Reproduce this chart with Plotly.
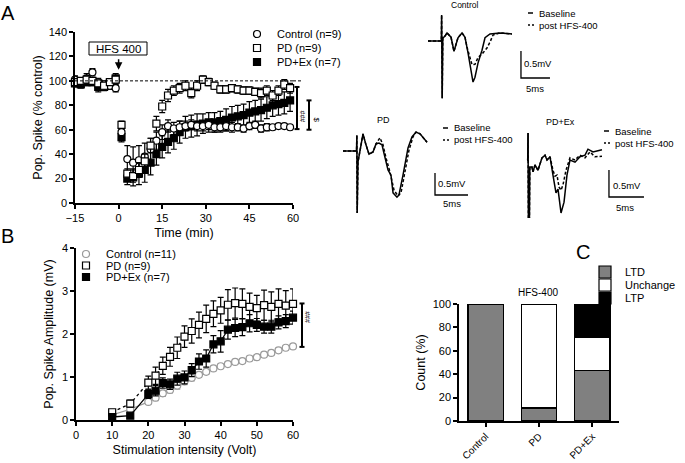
import plotly.graph_objects as go

W, H = 685, 463
FONT = "Arial, Liberation Sans, sans-serif"

# ---------------- Panel A data: Pop. Spike (% control) vs time ----------------
time_base = [-15, -13, -11, -9, -7, -5, -3, -1]
time_post = [1, 3, 5, 7, 9, 11, 13, 15, 17, 19, 21, 23, 25, 27, 29,
             31, 33, 35, 37, 39, 41, 43, 45, 47, 49, 51, 53, 55, 57, 59]

ctrl_base = [101, 99, 102, 107, 99, 97, 96, 94]
pd_base = [99, 100, 101, 100, 98, 96, 99, 101]
pdex_base = [98, 97, 99, 99, 95, 95, 98, 102]

ctrl_post = [58, 36, 33, 35, 38, 44, 51, 58, 63, 61, 62, 63, 64, 63, 63,
             64, 62, 62, 63, 62, 62, 61, 63, 64, 61, 62, 62, 63, 63, 62]
pd_post = [64, 24, 22, 27, 34, 47, 65, 79, 88, 92, 94, 96, 90, 96, 101,
           99, 96, 93, 93, 94, 93, 92, 92, 91, 90, 92, 88, 92, 97, 94]
pdex_post = [54, 20, 21, 24, 27, 33, 40, 46, 50, 53, 58, 62, 63, 64, 65,
             66, 66, 67, 68, 70, 71, 72, 74, 75, 76, 78, 80, 81, 82, 84]

ctrl_err_base = [3, 3, 4, 3, 3, 3, 3, 3]
pd_err_base = [2, 2, 3, 2, 2, 2, 2, 2]
pdex_err_base = [3, 3, 3, 3, 4, 3, 3, 4]
ctrl_err_post = [5, 11, 13, 12, 11, 9, 7, 6, 5, 5, 5, 4, 4, 4, 4,
                 4, 4, 4, 4, 4, 3, 3, 3, 3, 3, 3, 2, 2, 2, 2]
pd_err_post = [3, 4, 5, 6, 6, 6, 6, 5, 5, 4, 4, 4, 4, 4, 3,
               3, 3, 3, 3, 3, 3, 3, 3, 3, 4, 4, 4, 4, 4, 4]
pdex_err_post = [4, 5, 7, 9, 10, 10, 9, 9, 9, 9, 9, 9, 9, 9, 8,
                 8, 8, 8, 9, 9, 9, 9, 9, 9, 9, 9, 9, 9, 9, 9]

baseline_pct = 100
hfs_arrow_y = 109
sig_A_hash = [60.5, 95]
sig_A_dollar = [60, 84]

# ---------------- Panel B data: input/output ----------------
volt = [10, 15, 20, 22, 24, 26, 28, 30, 32, 34, 36, 38, 40, 42, 44, 46, 48, 50, 52, 54, 56, 58, 60]
ctrl_B = [0.12, 0.25, 0.42, 0.52, 0.62, 0.7, 0.8, 0.9, 0.98, 1.05, 1.12, 1.2, 1.25,
          1.3, 1.35, 1.37, 1.43, 1.46, 1.52, 1.56, 1.62, 1.68, 1.71]
pd_B = [0.18, 0.38, 0.87, 1.03, 1.26, 1.47, 1.68, 1.94, 2.07, 2.21, 2.35, 2.47, 2.55,
        2.68, 2.72, 2.7, 2.63, 2.6, 2.67, 2.63, 2.7, 2.66, 2.7]
pdex_B = [0.07, 0.1, 0.6, 0.68, 0.86, 0.83, 0.96, 0.99, 1.16, 1.36, 1.43, 1.76, 1.83,
          2.1, 2.14, 2.16, 2.25, 2.21, 2.17, 2.17, 2.27, 2.3, 2.38]
ctrl_B_err = [0.03, 0.04, 0.06, 0.07, 0.07, 0.07, 0.08, 0.08, 0.07, 0.06, 0.06, 0.05, 0.05,
              0.05, 0.05, 0.05, 0.05, 0.05, 0.05, 0.05, 0.05, 0.05, 0.05]
pd_B_err = [0.05, 0.08, 0.15, 0.2, 0.2, 0.22, 0.25, 0.25, 0.28, 0.3, 0.32, 0.3, 0.3,
            0.35, 0.35, 0.35, 0.32, 0.3, 0.35, 0.35, 0.35, 0.35, 0.35]
pdex_B_err = [0.03, 0.05, 0.1, 0.12, 0.12, 0.12, 0.15, 0.15, 0.15, 0.18, 0.2, 0.2, 0.25,
              0.22, 0.2, 0.2, 0.2, 0.15, 0.15, 0.15, 0.15, 0.15, 0.15]
sig_B_hash = [1.70, 2.71]

# ---------------- Panel C data: outcome counts (%) ----------------
groups = ["Control", "PD", "PD+Ex"]
ltd_pct = [100, 11.1, 42.9]
unchange_pct = [0, 88.9, 28.6]
ltp_pct = [0, 0, 28.5]

# ---------------- Representative traces (ms, mV) ----------------
ctrl_t_base = [0, 2.24, 2.3, 2.35, 2.45, 2.55, 2.93, 3.28, 3.97, 4.48, 5.17, 5.86, 6.38, 6.9,
               7.41, 7.76, 8.1, 8.62, 9.31, 9.83, 10.69, 12.41, 14.48]
ctrl_v_base = [0, 0, 0, 0.48, -1.06, 0.05, 0.09, 0.15, 0.07, -0.19, 0.06, 0.15, 0.07, -0.22,
               -0.57, -0.76, -0.67, -0.41, -0.17, 0.06, 0.13, 0.15, 0.13]
ctrl_t_post = [0, 2.24, 2.3, 2.35, 2.45, 2.55, 2.93, 3.28, 3.97, 4.48, 5.17, 5.86, 6.38, 6.72,
               7.24, 7.59, 8.1, 8.62, 9.48, 10.17, 10.69, 11.21, 12.41, 14.48]
ctrl_v_post = [0, 0, 0, 0.48, -1.06, 0.05, 0.09, 0.15, 0.07, -0.19, 0.06, 0.15, 0.07, -0.11,
               -0.31, -0.44, -0.43, -0.31, -0.22, -0.13, -0.02, 0.11, 0.15, 0.13]

pd_t_base = [0, 1.82, 2.05, 2.1, 2.15, 2.27, 3.03, 3.48, 3.94, 4.55, 5.0, 5.45, 5.91, 6.21,
             6.82, 7.27, 7.58, 8.18, 8.48, 9.09, 9.85, 10.45, 11.06, 11.67, 12.73]
pd_v_base = [0, 0, 0, 0.36, -1.41, -0.25, 0.39, 0.14, -0.07, -0.02, 0.16, 0.18, 0.14, -0.05,
             -0.43, -0.55, -0.95, -1.05, -1.0, -0.55, 0.07, 0.32, 0.43, 0.39, 0.2]
pd_t_post = [0, 1.82, 2.05, 2.1, 2.15, 2.27, 3.03, 3.48, 3.94, 4.55, 5.0, 5.6, 6.06, 6.52,
             7.12, 7.73, 8.33, 8.79, 9.39, 10.0, 10.6, 11.06, 11.67, 12.73]
pd_v_post = [0, 0, 0, 0.36, -1.41, -0.25, 0.39, 0.14, -0.07, -0.02, 0.16, 0.3, 0.14, -0.16,
             -0.48, -0.89, -1.02, -0.95, -0.48, 0.02, 0.32, 0.43, 0.39, 0.2]

pdex_t_base = [0, 0.1, 0.15, 0.2, 0.35, 0.4, 0.71, 0.86, 1.14, 1.57, 2.14, 2.57, 2.86, 3.29,
               3.71, 4.14, 4.43, 4.86, 5.29, 5.71, 6.14, 6.86, 7.57, 8.29, 8.71, 9.43, 10.71]
pdex_v_base = [0, 0, 0.5, -1.06, -1.06, -0.13, -0.13, -0.22, -0.09, -0.19, 0.04, 0.09, 0, 0.06,
               -0.28, -0.61, -0.54, -0.98, -0.78, -0.28, 0, -0.04, 0.06, 0.09, 0.2, 0.15, 0.19]
pdex_t_post = [0, 0.1, 0.15, 0.2, 0.35, 0.4, 0.71, 0.86, 1.14, 1.57, 2.14, 2.57, 2.86, 3.29,
               3.71, 4.0, 4.29, 4.57, 4.86, 5.14, 5.57, 6.14, 6.86, 7.57, 8.29, 9.0, 9.71, 10.71]
pdex_v_post = [0, 0, 0.5, -1.06, -1.06, -0.13, -0.13, -0.22, -0.09, -0.19, 0.04, 0.09, 0, 0.06,
               -0.19, -0.3, -0.28, -0.5, -0.56, -0.46, -0.19, 0.04, 0, 0.09, 0.04, 0.15, 0.06, 0.07]

scale_ms = 5
scale_mv = 0.5


# ---------------- helpers (pixel -> paper) ----------------
def fx(p):
    return p / W


def fy(p):
    return 1 - p / H


def dom_x(a, b):
    return [a / W, b / W]


def dom_y(top, bottom):
    return [1 - bottom / H, 1 - top / H]


fig = go.Figure()

# ---------------- Panel A traces ----------------
tA = time_base + time_post
seriesA = [
    ("PD+Ex (n=7)", pdex_base + pdex_post, pdex_err_base + pdex_err_post, "square", "black", "legend3"),
    ("Control (n=9)", ctrl_base + ctrl_post, ctrl_err_base + ctrl_err_post, "circle", "white", "legend"),
    ("PD (n=9)", pd_base + pd_post, pd_err_base + pd_err_post, "square", "white", "legend2"),
]
for name, y, err, sym, fill, lg in seriesA:
    fig.add_trace(go.Scatter(
        x=tA, y=y, mode="markers", name=name, legend=lg,
        marker=dict(symbol=sym, size=7, color=fill, line=dict(color="black", width=1.2)),
        error_y=dict(type="data", array=err, color="black", thickness=1.2, width=3),
        xaxis="x", yaxis="y", cliponaxis=False))

# ---------------- Panel B traces ----------------
seriesB = [
    ("Control (n=11)", ctrl_B, ctrl_B_err, "circle", "white", "#9a9a9a", "solid", "legend4"),
    ("PD (n=9)", pd_B, pd_B_err, "square", "white", "black", "dot", "legend5"),
    ("PD+Ex (n=7)", pdex_B, pdex_B_err, "square", "black", "black", "solid", "legend6"),
]
for name, y, err, sym, fill, col, dash, lg in seriesB:
    fig.add_trace(go.Scatter(
        x=volt, y=y, mode="lines", showlegend=False,
        line=dict(color=col, width=1.3, dash=dash),
        xaxis="x2", yaxis="y2"))
    fig.add_trace(go.Scatter(
        x=volt, y=y, mode="markers", name=name, legend=lg,
        marker=dict(symbol=sym, size=7, color=fill, line=dict(color=col, width=1.2)),
        error_y=dict(type="data", array=err, color=col, thickness=1.2, width=3),
        xaxis="x2", yaxis="y2", cliponaxis=False))

# ---------------- Panel C bars ----------------
for name, vals, col, lg in [("LTD", ltd_pct, "#808080", "legend7"),
                            ("Unchange", unchange_pct, "white", "legend8"),
                            ("LTP", ltp_pct, "black", "legend9")]:
    fig.add_trace(go.Bar(
        x=groups, y=vals, name=name, legend=lg,
        marker=dict(color=col, line=dict(color="black", width=1.2)),
        xaxis="x3", yaxis="y3"))

# ---------------- Representative traces ----------------
for xa, ya_, tb, vb, tp, vp, sx, stop in [
        ("x4", "y4", ctrl_t_base, ctrl_v_base, ctrl_t_post, ctrl_v_post, 16.03, -0.185),
        ("x5", "y5", pd_t_base, pd_v_base, pd_t_post, pd_v_post, 13.94, -0.5),
        ("x6", "y6", pdex_t_base, pdex_v_base, pdex_t_post, pdex_v_post, 11.71, -0.185)]:
    fig.add_trace(go.Scatter(x=tp, y=vp, mode="lines", showlegend=False,
                             line=dict(color="black", width=1.5, dash="3px,2px"),
                             xaxis=xa, yaxis=ya_))
    fig.add_trace(go.Scatter(x=tb, y=vb, mode="lines", showlegend=False,
                             line=dict(color="black", width=1.5),
                             xaxis=xa, yaxis=ya_))
    fig.add_trace(go.Scatter(x=[sx, sx, sx + scale_ms],
                             y=[stop, stop - scale_mv, stop - scale_mv],
                             mode="lines", showlegend=False,
                             line=dict(color="black", width=1.3),
                             xaxis=xa, yaxis=ya_))

# ---------------- axes ----------------
tickfont = dict(family=FONT, size=11, color="black")
titlefont = dict(family=FONT, size=12.5, color="black")
common = dict(showline=True, linecolor="black", linewidth=1.5, ticks="outside",
              ticklen=4, tickwidth=1.5, tickcolor="black", showgrid=False,
              zeroline=False, tickfont=tickfont, automargin=False)

hidden = dict(visible=False, showgrid=False, zeroline=False, fixedrange=True)

fig.update_layout(
    width=W, height=H,
    margin=dict(l=0, r=0, t=0, b=0),
    paper_bgcolor="white", plot_bgcolor="white",
    font=dict(family=FONT, color="black"),
    barmode="stack", bargap=0.34,
    xaxis=dict(domain=dom_x(75, 293), range=[-15, 60], tickvals=[-15, 0, 15, 30, 45, 60],
               anchor="y", title=dict(text="Time (min)", font=titlefont, standoff=5), **common),
    yaxis=dict(domain=dom_y(32, 203), range=[0, 140], dtick=20, anchor="x",
               title=dict(text="Pop. Spike (% control)", font=titlefont, standoff=3), **common),
    xaxis2=dict(domain=dom_x(76, 293), range=[0, 60], dtick=10, anchor="y2",
                title=dict(text="Stimulation intensity (Volt)", font=titlefont, standoff=5), **common),
    yaxis2=dict(domain=dom_y(248, 420), range=[0, 4], dtick=1, anchor="x2",
                title=dict(text="Pop. Spike Amplitude (mV)", font=titlefont, standoff=6), **common),
    xaxis3=dict(domain=dom_x(459, 619), range=[-0.5, 2.5], anchor="y3", tickangle=-45,
                **{**common, "tickfont": dict(family=FONT, size=10, color="black")}),
    yaxis3=dict(domain=dom_y(304, 421), range=[0, 100], dtick=20, anchor="x3",
                title=dict(text="Count (%)", font=titlefont, standoff=4), **common),
    xaxis4=dict(domain=dom_x(420, 560), range=[-1.379, 22.759], anchor="y4", **hidden),
    yaxis4=dict(domain=dom_y(10, 105), range=[-1.185, 0.574], anchor="x4", **hidden),
    xaxis5=dict(domain=dom_x(335, 475), range=[-1.212, 20.0], anchor="y5", **hidden),
    yaxis5=dict(domain=dom_y(125, 220), range=[-1.568, 0.591], anchor="x5", **hidden),
    xaxis6=dict(domain=dom_x(520, 660), range=[-1.0, 19.0], anchor="y6", **hidden),
    yaxis6=dict(domain=dom_y(120, 222), range=[-1.148, 0.741], anchor="x6", **hidden),
)


# ---------------- legends (one per entry) ----------------
def leg(px, py, size=11):
    return dict(x=fx(px), y=fy(py), xanchor="left", yanchor="middle",
                bgcolor="rgba(0,0,0,0)", borderwidth=0,
                font=dict(family=FONT, size=size, color="black"))


fig.update_layout(
    legend=leg(237, 34), legend2=leg(237, 48), legend3=leg(237, 62),
    legend4=leg(66, 254), legend5=leg(66, 265.5), legend6=leg(66, 277),
    legend7=leg(585, 272), legend8=leg(585, 285), legend9=leg(585, 298),
)

# ---------------- annotations ----------------
ann = []


def text(s, px, py, size=10, xanchor="center", angle=0, align="center"):
    ann.append(dict(text=s, x=fx(px), y=fy(py), xref="paper", yref="paper",
                    showarrow=False, xanchor=xanchor, yanchor="middle", align=align,
                    textangle=angle, font=dict(family=FONT, size=size, color="black")))


text("A", 8, 13, 20)
text("B", 8, 236, 20)
text("C", 583, 252, 20)
text("HFS 400", 118, 48.5, 11.5)
text("HFS-400", 538, 292, 10)

text("Control", 465, 5, 8.5)
text("PD", 383, 120, 9)
text("PD+Ex", 560, 122, 9)
for lx, ly in [(537, 19), (452, 134), (613, 137.5)]:
    text("Baseline<br>post HFS-400", lx, ly, 9.5, "left", align="left")
for vx, vy, hx, hy in [(522, 63, 535, 88), (436, 183, 452, 204), (611, 185, 625, 207)]:
    text("0.5mV", vx, vy, 9.5, "left")
    text("5ms", hx, hy, 9.5)

yA0, yA1 = dom_y(32, 203)


def ya(v):
    return yA0 + v / 140 * (yA1 - yA0)


yB0, yB1 = dom_y(248, 420)


def yb(v):
    return yB0 + v / 4 * (yB1 - yB0)


ann.append(dict(text="###", x=fx(302.5), y=ya(sum(sig_A_hash) / 2), xref="paper", yref="paper",
                showarrow=False, textangle=90, font=dict(family=FONT, size=7, color="black")))
ann.append(dict(text="$", x=fx(316), y=ya(sum(sig_A_dollar) / 2), xref="paper", yref="paper",
                showarrow=False, textangle=90, font=dict(family=FONT, size=8, color="black")))
ann.append(dict(text="###", x=fx(308), y=yb(sum(sig_B_hash) / 2), xref="paper", yref="paper",
                showarrow=False, textangle=90, font=dict(family=FONT, size=7, color="black")))

ann.append(dict(text="", x=0, y=hfs_arrow_y, xref="x", yref="y", showarrow=True,
                ax=0, ay=-12, arrowhead=2, arrowsize=1, arrowwidth=1.5, arrowcolor="black"))

fig.update_layout(annotations=ann)

# ---------------- shapes ----------------
shapes = []
shapes.append(dict(type="line", xref="x", yref="y", x0=-15, x1=60, y0=baseline_pct, y1=baseline_pct,
                   line=dict(color="black", width=1, dash="3px,2px")))
shapes.append(dict(type="line", xref="paper", yref="y", x0=fx(293), x1=fx(302), y0=baseline_pct,
                   y1=baseline_pct, line=dict(color="black", width=1, dash="3px,2px")))
shapes.append(dict(type="rect", xref="paper", yref="paper", x0=fx(89), x1=fx(147), y0=fy(55), y1=fy(42),
                   line=dict(color="black", width=1)))


def bracket(px, y0, y1, w=2.5):
    shapes.append(dict(type="line", xref="paper", yref="paper", x0=fx(px), x1=fx(px), y0=y0, y1=y1,
                       line=dict(color="black", width=2)))
    for yy in (y0, y1):
        shapes.append(dict(type="line", xref="paper", yref="paper", x0=fx(px - w), x1=fx(px + w),
                           y0=yy, y1=yy, line=dict(color="black", width=2)))


bracket(297, ya(sig_A_hash[0]), ya(sig_A_hash[1]))
bracket(309, ya(sig_A_dollar[0]), ya(sig_A_dollar[1]))
bracket(302, yb(sig_B_hash[0]), yb(sig_B_hash[1]))

for x0, y1, y2 in [(528, 13, 25), (443, 128, 140), (604, 131, 143)]:
    shapes.append(dict(type="line", xref="paper", yref="paper", x0=fx(x0), x1=fx(x0 + 5),
                       y0=fy(y1), y1=fy(y1), line=dict(color="black", width=1.5)))
    shapes.append(dict(type="line", xref="paper", yref="paper", x0=fx(x0), x1=fx(x0 + 6),
                       y0=fy(y2), y1=fy(y2), line=dict(color="black", width=1.5, dash="2px,2px")))

fig.update_layout(shapes=shapes)

fig.write_html("out.html", config={"displayModeBar": False},
               post_script="document.body.style.margin='0';")
